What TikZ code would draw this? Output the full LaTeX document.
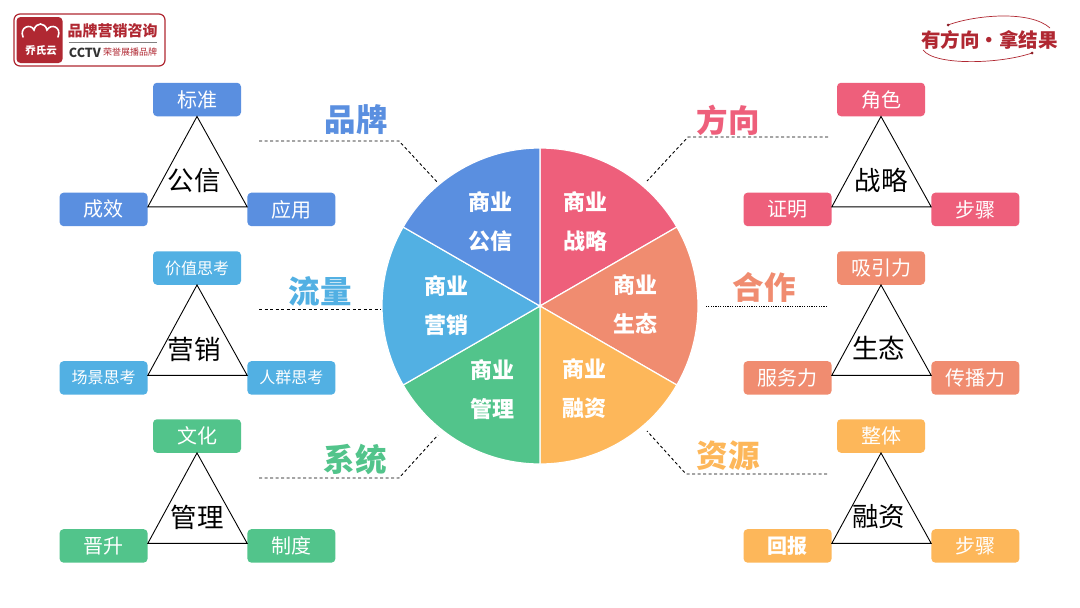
\documentclass[tikz,border=0pt]{standalone}
\usepackage{fontspec}
\setmainfont{Noto Sans CJK SC}
\usepackage{xcolor}
\usepackage{tikz}
\usetikzlibrary{positioning}
\definecolor{BrandBlue}{RGB}{90,143,224}
\definecolor{StrategyRed}{RGB}{238,95,123}
\definecolor{EcoSalmon}{RGB}{240,140,112}
\definecolor{FundOrange}{RGB}{253,183,90}
\definecolor{SystemGreen}{RGB}{82,196,139}
\definecolor{TrafficCyan}{RGB}{82,176,227}
\definecolor{LogoRed}{RGB}{176,40,50}

\begin{document}
\begin{tikzpicture}[
    x=1pt, y=1pt,
    itembox/.style={rectangle, rounded corners=4pt, minimum width=88pt, minimum height=33.5pt,
        inner sep=0pt, text=white, font=\fontsize{20}{24}\selectfont},
    smallitem/.style={itembox, font=\fontsize{16}{20}\selectfont},
    tri/.style={draw=black, line width=0.9pt, line join=miter},
    triname/.style={inner sep=0pt, font=\fontsize{26.5}{30}\selectfont},
    slice/.style={draw=white, line width=1.2pt},
    slicename/.style={inner sep=0pt, align=center, text=white, font=\fontsize{22}{39}\selectfont\bfseries},
    topic/.style={inner sep=0pt, font=\fontsize{31.5}{36}\selectfont\bfseries},
    lead/.style={draw=black, dashed, line width=0.9pt, dash pattern=on 3pt off 2.5pt},
]
\useasboundingbox (0,0) rectangle (1080,-608);
\fill[white] (0,0) rectangle (1080,-608);

% logo left
\node[draw=LogoRed, line width=1.2pt, rounded corners=6pt, minimum width=151pt, minimum height=52pt, inner sep=0pt] (logobox) at (89.5,-40) {};
\node[fill=LogoRed, rounded corners=4pt, minimum width=46pt, minimum height=46pt, inner sep=0pt] (logomark) at (39.5,-40) {};
\node[inner sep=0pt, text=white, font=\fontsize{10.5}{12}\selectfont\bfseries] (logoname) at (41,-50.5) {乔氏云};
\draw[white, line width=1.6pt, line cap=round] (23,-37) .. controls (19,-27) and (31,-23) .. (34,-30) .. controls (36,-22) and (45,-22) .. (47,-30) .. controls (51,-23) and (62,-27) .. (58,-37);
\node[inner sep=0pt, text=LogoRed, font=\fontsize{15}{18}\selectfont\bfseries] (logotitle) at (112.5,-30.5) {品牌营销咨询};
\node[inner sep=0pt, text=black!80, font=\fontsize{12.5}{14}\selectfont\bfseries] (logocctv) at (85,-52.5) {CCTV};
\node[inner sep=0pt, text=LogoRed, font=\fontsize{9}{10}\selectfont] (logosub) at (130,-52.5) {荣誉展播品牌};
\draw[gray, line width=0.8pt] (68.5,-42.7) -- (157,-42.7);

% logo right
\node[inner sep=0pt, text=LogoRed, font=\fontsize{19.5}{25}\selectfont\bfseries] (slogan) at (989.5,-39.5) {有方向·拿结果};
\draw[LogoRed, line width=0.7pt] (948,-25) .. controls (975,-15) and (1030,-10) .. (1050,-28);
\draw[LogoRed, line width=0.7pt] (923,-50) .. controls (935,-66) and (1000,-64) .. (1032,-53);
\fill[LogoRed!80!black] (948,-25) circle (1.5);
\fill[LogoRed!80!black] (1032,-53) circle (1.5);

% pie
\coordinate (hub) at (540,-306);
\fill[slice, fill=StrategyRed] (hub) -- +(90:158) arc (90:30:158) -- cycle;
\fill[slice, fill=EcoSalmon] (hub) -- +(30:158) arc (30:-30:158) -- cycle;
\fill[slice, fill=FundOrange] (hub) -- +(-30:158) arc (-30:-90:158) -- cycle;
\fill[slice, fill=SystemGreen] (hub) -- +(-90:158) arc (-90:-150:158) -- cycle;
\fill[slice, fill=TrafficCyan] (hub) -- +(-150:158) arc (-150:-210:158) -- cycle;
\fill[slice, fill=BrandBlue] (hub) -- +(150:158) arc (150:90:158) -- cycle;

\node[slicename] (sGongxin) at (490,-221.5) {商业\\公信};
\node[slicename] (sZhanlue) at (585,-221.5) {商业\\战略};
\node[slicename] (sShengtai) at (635,-304.5) {商业\\生态};
\node[slicename] (sRongzi) at (584,-389) {商业\\融资};
\node[slicename] (sGuanli) at (492,-390) {商业\\管理};
\node[slicename] (sYingxiao) at (446,-305.5) {商业\\营销};

% topics
\node[topic, text=BrandBlue] (tPinpai) at (356,-120) {品牌};
\node[topic, text=StrategyRed] (tFangxiang) at (728,-120) {方向};
\node[topic, text=TrafficCyan] (tLiuliang) at (320,-291) {流量};
\node[topic, text=EcoSalmon] (tHezuo) at (764,-287) {合作};
\node[topic, text=SystemGreen] (tXitong) at (355,-459) {系统};
\node[topic, text=FundOrange] (tZiyuan) at (728,-456) {资源};

% leaders
\coordinate (a1) at (259,-141); \coordinate (a2) at (399,-141); \coordinate (a3) at (438,-183);
\coordinate (b1) at (828,-137); \coordinate (b2) at (688,-137); \coordinate (b3) at (647,-181);
\coordinate (c1) at (259,-309); \coordinate (c2) at (381,-309);
\coordinate (d1) at (827,-306); \coordinate (d2) at (706,-306);
\coordinate (e1) at (259,-478); \coordinate (e2) at (399,-478); \coordinate (e3) at (438,-435);
\coordinate (f1) at (827,-474); \coordinate (f2) at (686,-474); \coordinate (f3) at (647,-431);
\draw[lead] (a1) -- (a2) -- (a3);
\draw[lead] (b1) -- (b2) -- (b3);
\draw[lead] (c1) -- (c2);
\draw[lead, dash pattern=on 1.2pt off 1.2pt] (d1) -- (d2);
\draw[lead] (e1) -- (e2) -- (e3);
\draw[lead] (f1) -- (f2) -- (f3);

% gongxin
\node[itembox, fill=BrandBlue] (gxT) at (197,-99.5) {标准};
\node[itembox, fill=BrandBlue, below left=76pt and 5pt of gxT] (gxL) {成效};
\node[itembox, fill=BrandBlue, below right=76pt and 6pt of gxT] (gxR) {应用};
\draw[tri] (gxT.south) -- ([yshift=2.5pt]gxL.east) -- ([yshift=2.5pt]gxR.west) -- cycle;
\node[triname] (gxC) at (194,-180) {公信};

% yingxiao
\node[smallitem, fill=TrafficCyan] (yxT) at (197,-268) {价值思考};
\node[smallitem, fill=TrafficCyan, below left=76pt and 5pt of yxT] (yxL) {场景思考};
\node[smallitem, fill=TrafficCyan, below right=76pt and 6pt of yxT] (yxR) {人群思考};
\draw[tri] (yxT.south) -- ([yshift=2.5pt]yxL.east) -- ([yshift=2.5pt]yxR.west) -- cycle;
\node[triname] (yxC) at (194,-349) {营销};

% guanli
\node[itembox, fill=SystemGreen] (glT) at (197,-436) {文化};
\node[itembox, fill=SystemGreen, below left=76pt and 5pt of glT] (glL) {晋升};
\node[itembox, fill=SystemGreen, below right=76pt and 6pt of glT] (glR) {制度};
\draw[tri] (glT.south) -- ([yshift=2.5pt]glL.east) -- ([yshift=2.5pt]glR.west) -- cycle;
\node[triname] (glC) at (197,-517) {管理};

% zhanlue
\node[itembox, fill=StrategyRed] (zlT) at (881,-99.5) {角色};
\node[itembox, fill=StrategyRed, below left=76pt and 5pt of zlT] (zlL) {证明};
\node[itembox, fill=StrategyRed, below right=76pt and 6pt of zlT] (zlR) {步骤};
\draw[tri] (zlT.south) -- ([yshift=2.5pt]zlL.east) -- ([yshift=2.5pt]zlR.west) -- cycle;
\node[triname] (zlC) at (881,-180) {战略};

% shengtai
\node[itembox, fill=EcoSalmon] (stT) at (881,-268) {吸引力};
\node[itembox, fill=EcoSalmon, below left=76pt and 5pt of stT] (stL) {服务力};
\node[itembox, fill=EcoSalmon, below right=76pt and 6pt of stT] (stR) {传播力};
\draw[tri] (stT.south) -- ([yshift=2.5pt]stL.east) -- ([yshift=2.5pt]stR.west) -- cycle;
\node[triname] (stC) at (878.5,-348) {生态};

% rongzi
\node[itembox, fill=FundOrange] (rzT) at (881,-436) {整体};
\node[itembox, fill=FundOrange, below left=76pt and 5pt of rzT, font=\fontsize{20}{24}\selectfont\bfseries] (rzL) {回报};
\node[itembox, fill=FundOrange, below right=76pt and 6pt of rzT] (rzR) {步骤};
\draw[tri] (rzT.south) -- ([yshift=2.5pt]rzL.east) -- ([yshift=2.5pt]rzR.west) -- cycle;
\node[triname] (rzC) at (878.5,-517) {融资};
\end{tikzpicture}
\end{document}
